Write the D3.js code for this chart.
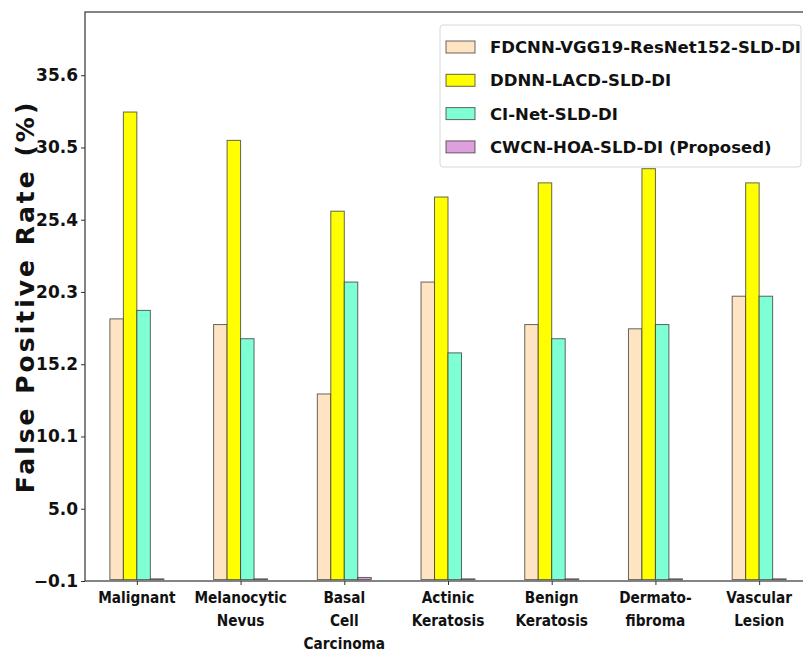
<!DOCTYPE html>
<html>
<head>
<meta charset="utf-8">
<script src="https://cdn.jsdelivr.net/npm/d3@7"></script>
<style>
  body { margin: 0; background: #fff; }
  text { font-family: "DejaVu Sans", sans-serif; font-weight: bold; fill: #111; }
</style>
</head>
<body>
<div id="chart"></div>
<script>
// Data
const categories = [
  ["Malignant"],
  ["Melanocytic", "Nevus"],
  ["Basal", "Cell", "Carcinoma"],
  ["Actinic", "Keratosis"],
  ["Benign", "Keratosis"],
  ["Dermato-", "fibroma"],
  ["Vascular", "Lesion"]
];
const seriesNames = [
  "FDCNN-VGG19-ResNet152-SLD-DI",
  "DDNN-LACD-SLD-DI",
  "CI-Net-SLD-DI",
  "CWCN-HOA-SLD-DI (Proposed)"
];
const fdcnn = [18.4, 18.0, 13.1, 21.0, 18.0, 17.7, 20.0];
const ddnn = [33.0, 31.0, 26.0, 27.0, 28.0, 29.0, 28.0];
const cinet = [19.0, 17.0, 21.0, 16.0, 17.0, 18.0, 20.0];
const proposed = [0.05, 0.05, 0.15, 0.05, 0.05, 0.05, 0.05];
const yTicks = [-0.1, 5.0, 10.1, 15.2, 20.3, 25.4, 30.5, 35.6];
const colors = ["#ffe4c4", "#ffff00", "#7fffd4", "#dda0dd"];

const seriesValues = [fdcnn, ddnn, cinet, proposed];

// Set up the visualization
const width = 803;
const height = 652;
const plot = { left: 85, right: 811, top: 12, bottom: 581 };
const barWidth = 0.13;

const svg = d3.select("#chart")
  .append("svg")
  .attr("width", width)
  .attr("height", height);

svg.append("rect")
  .attr("width", width)
  .attr("height", height)
  .attr("fill", "#fff");

// Scales
const xScale = d3.scaleLinear()
  .domain([-0.5, categories.length - 0.5])
  .range([plot.left, plot.right]);

const yScale = d3.scaleLinear()
  .domain([-0.1, 40.06])
  .range([plot.bottom, plot.top]);

// Bars
const barData = [];
seriesValues.forEach((vals, j) => {
  vals.forEach((v, i) => barData.push({ i, j, v }));
});

svg.append("g")
  .selectAll("rect")
  .data(barData)
  .enter()
  .append("rect")
  .attr("x", d => xScale(d.i + (d.j - 2) * barWidth))
  .attr("width", xScale(barWidth) - xScale(0))
  .attr("y", d => yScale(d.v))
  .attr("height", d => yScale(0) - yScale(d.v))
  .attr("fill", d => colors[d.j])
  .attr("stroke", "#333")
  .attr("stroke-opacity", 0.75)
  .attr("stroke-width", 1);

// Axes
const yAxis = svg.append("g")
  .attr("transform", `translate(${plot.left},0)`)
  .call(d3.axisLeft(yScale).tickValues(yTicks).tickFormat(d3.format(".1f")).tickSize(4).tickPadding(3));

yAxis.select(".domain").remove();
yAxis.selectAll("line").attr("stroke", "#333");
yAxis.selectAll("text")
  .attr("font-size", 17)
  .attr("font-family", "DejaVu Sans")
  .attr("font-weight", "bold")
  .attr("fill", "#111")
  .text(d => d3.format(".1f")(d).replace("-", "\u2212"));

const xAxis = svg.append("g")
  .attr("transform", `translate(0,${plot.bottom})`)
  .call(d3.axisBottom(xScale).tickValues(d3.range(categories.length)).tickSize(4).tickFormat(""));

xAxis.select(".domain").remove();
xAxis.selectAll("line").attr("stroke", "#333");

// Multi-line category labels (condensed)
categories.forEach((lines, i) => {
  lines.forEach((line, k) => {
    svg.append("text")
      .attr("transform", `translate(${xScale(i)},${603 + k * 23}) scale(0.83,1)`)
      .attr("text-anchor", "middle")
      .attr("font-size", 16.5)
      .text(line);
  });
});

// Frame
svg.append("rect")
  .attr("x", plot.left)
  .attr("y", plot.top)
  .attr("width", plot.right - plot.left)
  .attr("height", plot.bottom - plot.top)
  .attr("fill", "none")
  .attr("stroke", "#333")
  .attr("stroke-width", 1.2);

// Y label
svg.append("text")
  .attr("transform", `translate(34,${(plot.top + plot.bottom) / 2}) rotate(-90)`)
  .attr("text-anchor", "middle")
  .attr("font-size", 25)
  .attr("letter-spacing", 3)
  .text("False Positive Rate (%)");

// Legend
const legend = svg.append("g");

legend.append("rect")
  .attr("x", 440)
  .attr("y", 25)
  .attr("width", 361)
  .attr("height", 142)
  .attr("rx", 3)
  .attr("fill", "#fff")
  .attr("fill-opacity", 0.85)
  .attr("stroke", "#d8d8d8");

seriesNames.forEach((name, j) => {
  const cy = 47 + j * 33.3;
  legend.append("rect")
    .attr("x", 446)
    .attr("y", cy - 6)
    .attr("width", 29)
    .attr("height", 12)
    .attr("fill", colors[j])
    .attr("stroke", "#333")
    .attr("stroke-opacity", 0.75);
  legend.append("text")
    .attr("x", 490)
    .attr("y", cy + 6)
    .attr("font-size", 16.5)
    .text(name);
});
</script>
</body>
</html>
